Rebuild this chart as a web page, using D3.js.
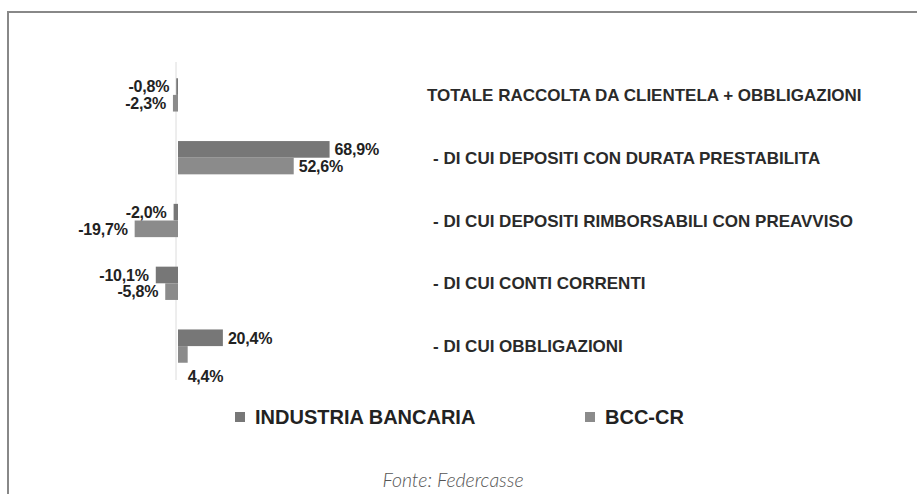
<!DOCTYPE html>
<html>
<head>
<meta charset="utf-8">
<script src="https://cdn.jsdelivr.net/npm/d3@7"></script>
<style>
  body { margin: 0; background: #fff; }
  svg { display: block; }
</style>
</head>
<body>
<svg id="chart" width="917" height="494"></svg>
<script>
// categories and values (percent change)
const categories = [
    "TOTALE RACCOLTA DA CLIENTELA + OBBLIGAZIONI",
    "- DI CUI DEPOSITI CON DURATA PRESTABILITA",
    "- DI CUI DEPOSITI RIMBORSABILI CON PREAVVISO",
    "- DI CUI CONTI CORRENTI",
    "- DI CUI OBBLIGAZIONI"
];
const seriesNames = ["INDUSTRIA BANCARIA", "BCC-CR"];
const industriaValues = [-0.8, 68.9, -2.0, -10.1, 20.4];
const bccValues = [-2.3, 52.6, -19.7, -5.8, 4.4];
const seriesColors = ["#777777", "#8b8b8b"];
const source = "Fonte: Federcasse";

const svg = d3.select("#chart");
// italian style: comma decimal, plain hyphen for minus
const fmt = v => (v < 0 ? "-" : "") + Math.abs(v).toFixed(1).replace(".", ",") + "%";

// frame (top + left border)
svg.append("line")
    .attr("x1", 7).attr("x2", 917).attr("y1", 12).attr("y2", 12)
    .attr("stroke", "#888").attr("stroke-width", 2);
svg.append("line")
    .attr("x1", 8).attr("x2", 8).attr("y1", 11).attr("y2", 494)
    .attr("stroke", "#888").attr("stroke-width", 2);

// scales
const x = d3.scaleLinear().domain([-25, 75]).range([123, 343]);
const y = d3.scaleBand().domain(d3.range(categories.length))
    .range([63.5, 377.5]).paddingInner(0.47).paddingOuter(0.235);
const ySub = d3.scaleBand().domain([0, 1]).range([0, y.bandwidth()]);

const rows = categories.map((c, i) => ({
    cat: c, i: i, vals: [industriaValues[i], bccValues[i]]
}));

// faint zero line
svg.append("line")
    .attr("x1", x(0) - 2).attr("x2", x(0) - 2)
    .attr("y1", 62).attr("y2", 380)
    .attr("stroke", "#dcdcdc").attr("stroke-width", 1);

const g = svg.selectAll("g.cat")
    .data(rows)
    .enter()
    .append("g")
    .attr("class", "cat")
    .attr("transform", d => `translate(0,${y(d.i)})`);

g.selectAll("rect")
    .data(d => d.vals.map((v, s) => ({v: v, s: s})))
    .enter()
    .append("rect")
    .attr("x", d => Math.min(x(0), x(d.v)))
    .attr("y", d => ySub(d.s))
    .attr("width", d => Math.abs(x(d.v) - x(0)))
    .attr("height", ySub.bandwidth())
    .attr("fill", d => seriesColors[d.s]);

// value labels (the small last BCC bar gets its label below the bar)
g.each(function(row) {
    const last = row.i === categories.length - 1;
    d3.select(this).selectAll("text.val")
        .data(row.vals.map((v, s) => ({v: v, s: s})))
        .enter()
        .append("text")
        .attr("class", "val")
        .attr("x", d => {
            if (last && d.s === 1) return x(d.v);
            return d.v < 0 ? x(d.v) - 7 : x(d.v) + 5;
        })
        .attr("y", d => ySub(d.s) + ySub.bandwidth() / 2 + (last && d.s === 1 ? 22 : 0))
        .attr("dy", "0.36em")
        .attr("text-anchor", d => d.v < 0 ? "end" : "start")
        .style("font-family", "'Liberation Sans', Arial, sans-serif")
        .style("font-weight", "bold")
        .style("font-size", "16px")
        .style("letter-spacing", "-0.2px")
        .attr("fill", "#222")
        .text(d => fmt(d.v));
});

// category labels
svg.selectAll("text.cat")
    .data(rows)
    .enter()
    .append("text")
    .attr("class", "cat")
    .attr("x", d => d.cat.startsWith("-") ? 433 : 427)
    .attr("y", d => y(d.i) + y.bandwidth() / 2)
    .attr("dy", "0.36em")
    .style("font-family", "'Liberation Sans', Arial, sans-serif")
    .style("font-weight", "bold")
    .style("font-size", "17px")
    .attr("fill", "#2a2a2a")
    .text(d => d.cat);

// legend
const legendX = [235, 585];
const legend = svg.selectAll("g.leg")
    .data(seriesNames)
    .enter()
    .append("g")
    .attr("class", "leg")
    .attr("transform", (d, i) => `translate(${legendX[i]},417)`);
legend.append("rect")
    .attr("x", 0).attr("y", -5)
    .attr("width", 10).attr("height", 10)
    .attr("fill", (d, i) => seriesColors[i]);
legend.append("text")
    .attr("x", 20)
    .attr("dy", "0.36em")
    .style("font-family", "'Liberation Sans', Arial, sans-serif")
    .style("font-weight", "bold")
    .style("font-size", "20px")
    .attr("fill", "#222")
    .text(d => d);

// source
svg.append("text")
    .attr("x", 453)
    .attr("y", 487)
    .attr("text-anchor", "middle")
    .style("font-family", "Lato, 'Open Sans', sans-serif")
    .style("font-style", "italic")
    .style("font-weight", "300")
    .style("font-size", "19.5px")
    .attr("fill", "#555")
    .text(source);
</script>
</body>
</html>
